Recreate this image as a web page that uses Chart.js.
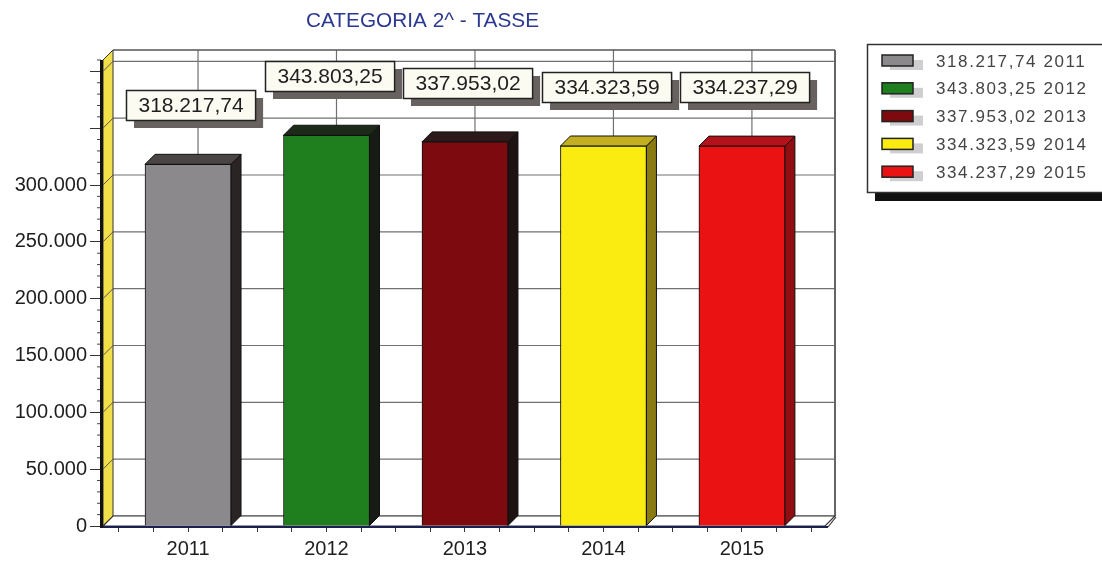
<!DOCTYPE html>
<html>
<head>
<meta charset="utf-8">
<script src="https://cdn.jsdelivr.net/npm/chart.js@4/dist/chart.umd.min.js"></script>
<style>
  html, body { margin: 0; padding: 0; background: #fff; }
  #wrap { width: 1102px; height: 565px; }
</style>
</head>
<body>
<div id="wrap"><canvas id="chart" width="1102" height="565"></canvas></div>
<script>
  'use strict';

  const years = [2011, 2012, 2013, 2014, 2015];
  const amounts = [318217.74, 343803.25, 337953.02, 334323.59, 334237.29];
  const yLabelledTicks = [0, 50000, 100000, 150000, 200000, 250000, 300000];
  const yMajorTicks = [0, 50000, 100000, 150000, 200000, 250000, 300000, 350000, 400000];

  const frontColors = ['#8b898c', '#1f7f1f', '#7c0a0e', '#faec10', '#ea1212'];
  const topColors = ['#4a4444', '#1d2a1a', '#2c1a1a', '#c2ae20', '#b3121a'];
  const sideColors = ['#2a2424', '#161c14', '#1e1212', '#8a7a12', '#900d12'];

  const DX = 10, DY = 10;

  // 318217.74 -> "318.217,74"
  function fmtIt(v, decimals) {
    const parts = v.toFixed(decimals).split('.');
    const int = parts[0].replace(/\B(?=(\d{3})+(?!\d))/g, '.');
    return parts.length > 1 ? int + ',' + parts[1] : int;
  }

  function poly(ctx, pts, fill, stroke, lw) {
    ctx.beginPath();
    ctx.moveTo(pts[0][0], pts[0][1]);
    for (let i = 1; i < pts.length; i++) ctx.lineTo(pts[i][0], pts[i][1]);
    ctx.closePath();
    if (fill) { ctx.fillStyle = fill; ctx.fill(); }
    if (stroke) { ctx.strokeStyle = stroke; ctx.lineWidth = lw || 1; ctx.stroke(); }
  }

  function line(ctx, x1, y1, x2, y2, color, lw) {
    ctx.beginPath();
    ctx.moveTo(x1, y1);
    ctx.lineTo(x2, y2);
    ctx.strokeStyle = color;
    ctx.lineWidth = lw;
    ctx.stroke();
  }

  // walls, floor, back grid and the depth faces of the bars
  const box3d = {
    id: 'box3d',
    beforeDatasetsDraw(chart) {
      const ctx = chart.ctx;
      const a = chart.chartArea;
      const ys = chart.scales.y, xs = chart.scales.x;
      ctx.save();

      yMajorTicks.forEach(v => {
        const py = ys.getPixelForValue(v) - DY;
        line(ctx, a.left + DX, py, a.right + DX, py, '#707070', 1.2);
      });
      years.forEach(yr => {
        const px = xs.getPixelForValue(yr) + DX;
        line(ctx, px, a.top - DY, px, a.bottom - DY, '#707070', 1.2);
      });
      line(ctx, a.left + DX, a.top - DY, a.right + DX, a.top - DY, '#555', 1.5);
      line(ctx, a.right + DX, a.top - DY, a.right + DX, a.bottom - DY, '#666', 2);

      // left wall
      poly(ctx, [[a.left, a.top], [a.left + DX, a.top - DY], [a.left + DX, a.bottom - DY], [a.left, a.bottom]],
        '#f2e04a', '#333', 1);
      yMajorTicks.forEach(v => {
        const py = ys.getPixelForValue(v);
        line(ctx, a.left, py, a.left + DX, py - DY, '#555', 1);
      });

      // floor
      poly(ctx, [[a.left, a.bottom], [a.left + DX, a.bottom - DY], [a.right + DX, a.bottom - DY], [a.right, a.bottom]],
        '#ffffff', '#333', 1.2);

      const meta = chart.getDatasetMeta(0);
      meta.data.forEach((bar, i) => {
        const l = bar.x - bar.width / 2, r = bar.x + bar.width / 2;
        poly(ctx, [[r, bar.y], [r + DX, bar.y - DY], [r + DX, bar.base - DY], [r, bar.base]], sideColors[i], '#111', 1);
        poly(ctx, [[l, bar.y], [l + DX, bar.y - DY], [r + DX, bar.y - DY], [r, bar.y]], topColors[i], '#111', 1);
      });
      ctx.restore();
    },
    afterDatasetsDraw(chart) {
      const ctx = chart.ctx;
      const a = chart.chartArea;
      const ys = chart.scales.y;
      ctx.save();

      // minor ticks every 10.000
      for (let v = 10000; v <= 410000; v += 10000) {
        if (v % 50000 === 0) continue;
        const py = ys.getPixelForValue(v);
        line(ctx, a.left - 6, py, a.left - 2, py, '#444', 1);
      }
      line(ctx, a.left - 1.5, a.top, a.left - 1.5, a.bottom + 2, '#111', 3);
      line(ctx, a.left, a.bottom + 1, a.right + 3, a.bottom + 1, '#1c2050', 2);
      line(ctx, a.right + 3, a.bottom + 1, a.right + DX + 1, a.bottom - DY + 1, '#333', 1.2);

      // value boxes
      ctx.font = '21px Arial, "Liberation Sans", sans-serif';
      ctx.textAlign = 'center';
      ctx.textBaseline = 'middle';
      const meta = chart.getDatasetMeta(0);
      meta.data.forEach((bar, i) => {
        const text = fmtIt(amounts[i], 2);
        const w = ctx.measureText(text).width + 24;
        const h = 30;
        const bx = Math.round(bar.x + 3 - w / 2);
        const by = Math.round(bar.y - 74);
        ctx.fillStyle = '#67625f';
        ctx.fillRect(bx + 8, by + 8, w, h);
        ctx.fillStyle = '#fcfbf2';
        ctx.fillRect(bx, by, w, h);
        ctx.strokeStyle = '#222';
        ctx.lineWidth = 1.5;
        ctx.strokeRect(bx + 0.5, by + 0.5, w, h);
        ctx.fillStyle = '#1e1e1e';
        ctx.fillText(text, bx + w / 2 + 0.5, by + h / 2 + 1);
      });
      ctx.restore();
    },
    afterDraw(chart) {
      const ctx = chart.ctx;
      ctx.save();

      // title
      ctx.font = '21px Arial, "Liberation Sans", sans-serif';
      ctx.fillStyle = '#2b3990';
      ctx.textBaseline = 'middle';
      ctx.textAlign = 'left';
      const title = 'CATEGORIA 2^ - TASSE';
      const tw = ctx.measureText(title).width;
      ctx.translate(306, 21);
      ctx.scale(233 / tw, 1);
      ctx.fillText(title, 0, 0);
      ctx.setTransform(1, 0, 0, 1, 0, 0);

      // legend
      ctx.fillStyle = '#111';
      ctx.fillRect(875, 192, 240, 9);
      ctx.fillStyle = '#fff';
      ctx.fillRect(867, 44, 260, 148);
      ctx.strokeStyle = '#333';
      ctx.lineWidth = 1.5;
      ctx.strokeRect(867.5, 44.5, 260, 148);

      ctx.font = '17px Arial, "Liberation Sans", sans-serif';
      ctx.letterSpacing = '1.6px';
      years.forEach((yr, i) => {
        const cy = 61 + i * 27.8;
        ctx.fillStyle = '#cfcfd2';
        ctx.fillRect(890, cy - 1, 33, 10);
        ctx.fillStyle = frontColors[i];
        ctx.fillRect(882, cy - 6, 31, 11);
        ctx.strokeStyle = '#222';
        ctx.lineWidth = 1.5;
        ctx.strokeRect(882, cy - 6, 31, 11);
        ctx.fillStyle = '#444';
        ctx.fillText(fmtIt(amounts[i], 2) + ' ' + yr, 936, cy + 1);
      });
      ctx.restore();
    }
  };

  const xQuarterTicks = [];
  for (let t = years[0] - 0.5; t <= years[years.length - 1] + 0.5; t += 0.25) xQuarterTicks.push(t);

  new Chart(document.getElementById('chart'), {
    type: 'bar',
    data: {
      datasets: [{
        data: years.map((yr, i) => ({x: yr, y: amounts[i]})),
        backgroundColor: frontColors,
        borderColor: '#111',
        borderWidth: 1,
        barThickness: 86,
      }]
    },
    options: {
      responsive: false,
      animation: false,
      events: [],
      layout: {padding: {top: 60, right: 277, left: 0, bottom: 0}},
      plugins: {
        legend: {display: false},
        title: {display: false},
        tooltip: {enabled: false},
      },
      scales: {
        x: {
          type: 'linear',
          offset: false,
          min: 2010.386,
          max: 2015.6,
          afterBuildTicks: s => { s.ticks = xQuarterTicks.map(v => ({value: v})); },
          afterFit: s => { s.height = 39; },
          border: {display: false},
          grid: {drawOnChartArea: false, drawTicks: true, tickLength: 6, color: '#333', offset: false},
          ticks: {
            autoSkip: false,
            maxRotation: 0,
            padding: 5,
            color: '#1e1e1e',
            font: {family: 'Arial, "Liberation Sans", sans-serif', size: 20},
            callback: v => Number.isInteger(v) ? String(v) : '',
          },
        },
        y: {
          min: 0,
          max: 410000,
          afterBuildTicks: s => { s.ticks = yMajorTicks.map(v => ({value: v})); },
          afterFit: s => { s.width = 103; },
          border: {display: false},
          grid: {drawOnChartArea: false, drawTicks: true, tickLength: 13, color: '#333'},
          ticks: {
            autoSkip: false,
            padding: 3,
            color: '#1e1e1e',
            font: {family: 'Arial, "Liberation Sans", sans-serif', size: 20},
            callback: v => yLabelledTicks.includes(v) ? fmtIt(v, 0) : '',
          },
        },
      },
    },
    plugins: [box3d],
  });
</script>
</body>
</html>
